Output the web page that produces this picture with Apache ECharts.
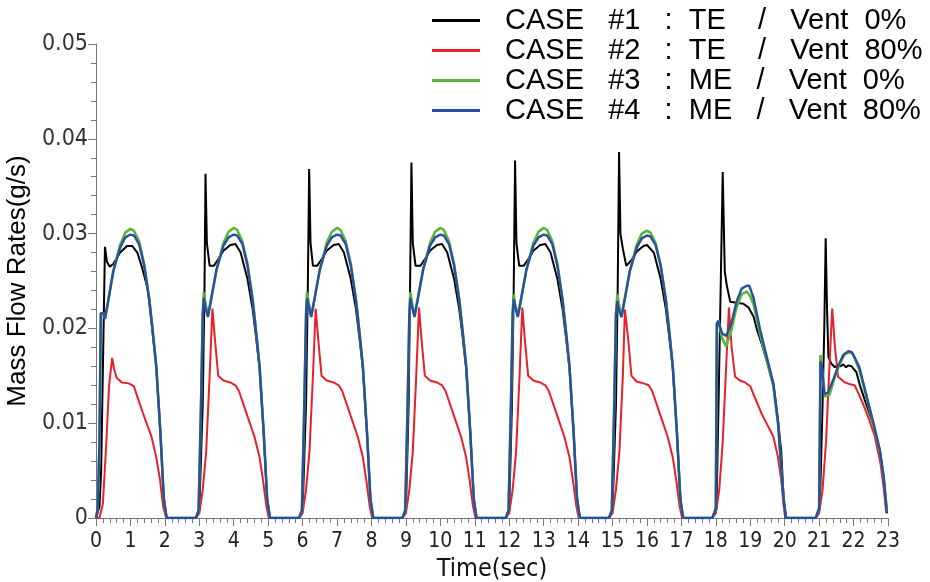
<!DOCTYPE html>
<html>
<head>
<meta charset="utf-8">
<script src="https://cdn.jsdelivr.net/npm/echarts@6/dist/echarts.min.js"></script>
<style>
  html, body { margin: 0; padding: 0; background: #fff; }
  #main { width: 930px; height: 582px; }
</style>
</head>
<body>
<div id="main"></div>
<script>
var caseNames = [
    'CASE   #1   :  TE    /   Vent  0%',
    'CASE   #2   :  TE    /   Vent  80%',
    'CASE   #3   :  ME   /   Vent  0%',
    'CASE   #4   :  ME   /   Vent  80%'
];
var caseColors = ['#000000', '#e8202a', '#5ab535', '#2b4fa0'];

// [time (sec), mass flow rate (g/s)]
var case1 = [
    [0,0],[0.1,0.0012],[0.15,0.005],[0.22,0.02],[0.26,0.0286],[0.32,0.027],[0.4,0.0265],[0.5,0.0268],[0.7,0.028],[0.9,0.0287],[1.05,0.0287],[1.2,0.028],[1.33,0.0265],[1.5,0.0242],[1.6,0.021],[1.75,0.016],[1.87,0.009],[1.97,0.002],[2.05,0],
    [2.9,0],[3.0,0.0008],[3.1,0.012],[3.15,0.024],[3.18,0.0363],[3.22,0.029],[3.3,0.0266],[3.42,0.0266],[3.55,0.0273],[3.7,0.0282],[3.9,0.0288],[4.05,0.0289],[4.2,0.028],[4.4,0.0252],[4.55,0.022],[4.65,0.019],[4.75,0.0158],[4.87,0.009],[4.97,0.002],[5.05,0],
    [5.9,0],[6.0,0.0008],[6.1,0.012],[6.15,0.024],[6.19,0.0368],[6.23,0.029],[6.3,0.0266],[6.42,0.0266],[6.55,0.0273],[6.7,0.0282],[6.9,0.0288],[7.05,0.0289],[7.2,0.028],[7.4,0.0252],[7.55,0.022],[7.65,0.019],[7.75,0.0158],[7.87,0.009],[7.97,0.002],[8.05,0],
    [8.9,0],[9.0,0.0008],[9.08,0.012],[9.12,0.024],[9.16,0.0375],[9.2,0.029],[9.28,0.0266],[9.42,0.0266],[9.55,0.0273],[9.7,0.0282],[9.9,0.0288],[10.05,0.0289],[10.2,0.028],[10.4,0.0252],[10.55,0.022],[10.65,0.019],[10.75,0.0158],[10.87,0.009],[10.97,0.002],[11.05,0],
    [11.9,0],[12.0,0.0008],[12.08,0.012],[12.13,0.024],[12.17,0.0377],[12.21,0.029],[12.29,0.0266],[12.42,0.0266],[12.55,0.0273],[12.7,0.0282],[12.9,0.0288],[13.05,0.0289],[13.2,0.028],[13.4,0.0252],[13.55,0.022],[13.65,0.019],[13.75,0.0158],[13.87,0.009],[13.97,0.002],[14.05,0],
    [14.9,0],[15.0,0.0008],[15.1,0.012],[15.15,0.024],[15.19,0.0386],[15.23,0.03],[15.3,0.0284],[15.4,0.0266],[15.55,0.0272],[15.7,0.0281],[15.9,0.0287],[16.0,0.0288],[16.2,0.028],[16.4,0.0252],[16.55,0.022],[16.65,0.019],[16.75,0.0158],[16.87,0.009],[16.97,0.002],[17.05,0],
    [17.9,0],[18.02,0.001],[18.12,0.02],[18.2,0.0365],[18.26,0.026],[18.32,0.0245],[18.42,0.0228],[18.6,0.0227],[18.8,0.0226],[18.95,0.0222],[19.1,0.0212],[19.2,0.0198],[19.33,0.0184],[19.5,0.0163],[19.67,0.0142],[19.8,0.0105],[19.9,0.007],[19.97,0.002],[20.05,0],
    [20.9,0],[21.02,0.001],[21.1,0.012],[21.15,0.02],[21.19,0.0295],[21.23,0.022],[21.27,0.017],[21.35,0.0163],[21.46,0.0159],[21.55,0.0162],[21.62,0.016],[21.7,0.0162],[21.78,0.0159],[21.85,0.0161],[21.94,0.016],[22.08,0.0154],[22.2,0.0138],[22.35,0.0122],[22.56,0.010],[22.76,0.0072],[22.88,0.004],[22.97,0.0005]
];

var case2 = [
    [0,0],[0.1,0],[0.2,0.0015],[0.3,0.008],[0.38,0.014],[0.47,0.0169],[0.52,0.0158],[0.6,0.0148],[0.75,0.0143],[0.95,0.0142],[1.1,0.0139],[1.2,0.0128],[1.37,0.011],[1.5,0.0097],[1.61,0.0086],[1.75,0.0064],[1.86,0.004],[1.95,0.0012],[2.04,0],
    [2.9,0],[3.0,0.0005],[3.1,0.003],[3.2,0.007],[3.3,0.015],[3.38,0.0221],[3.45,0.019],[3.55,0.015],[3.7,0.0145],[3.9,0.0143],[4.05,0.014],[4.15,0.0134],[4.3,0.0118],[4.45,0.0102],[4.6,0.0086],[4.75,0.0064],[4.85,0.004],[4.95,0.0012],[5.02,0],
    [5.9,0],[6.0,0.0005],[6.1,0.003],[6.2,0.007],[6.3,0.015],[6.38,0.0221],[6.45,0.019],[6.55,0.015],[6.7,0.0145],[6.9,0.0143],[7.05,0.014],[7.15,0.0134],[7.3,0.0118],[7.45,0.0102],[7.6,0.0086],[7.75,0.0064],[7.85,0.004],[7.95,0.0012],[8.02,0],
    [8.9,0],[9.0,0.0005],[9.1,0.003],[9.2,0.007],[9.3,0.015],[9.38,0.0222],[9.45,0.019],[9.55,0.015],[9.7,0.0145],[9.9,0.0143],[10.05,0.014],[10.15,0.0134],[10.3,0.0118],[10.45,0.0102],[10.6,0.0086],[10.75,0.0064],[10.85,0.004],[10.95,0.0012],[11.02,0],
    [11.9,0],[12.0,0.0005],[12.1,0.003],[12.2,0.007],[12.3,0.015],[12.38,0.0222],[12.45,0.019],[12.55,0.015],[12.7,0.0145],[12.9,0.0143],[13.05,0.014],[13.15,0.0134],[13.3,0.0118],[13.45,0.0102],[13.6,0.0086],[13.75,0.0064],[13.85,0.004],[13.95,0.0012],[14.02,0],
    [14.9,0],[15.0,0.0005],[15.1,0.003],[15.2,0.007],[15.3,0.015],[15.36,0.022],[15.45,0.019],[15.55,0.015],[15.7,0.0144],[15.9,0.0142],[16.05,0.014],[16.15,0.0134],[16.3,0.0118],[16.45,0.0102],[16.6,0.0086],[16.75,0.0064],[16.85,0.004],[16.95,0.0012],[17.02,0],
    [17.9,0],[18.0,0.0005],[18.1,0.003],[18.2,0.008],[18.3,0.016],[18.38,0.0222],[18.46,0.018],[18.56,0.0149],[18.7,0.0145],[18.85,0.0143],[19.0,0.0139],[19.1,0.013],[19.33,0.011],[19.5,0.0098],[19.67,0.0086],[19.8,0.0065],[19.9,0.004],[19.97,0.0012],[20.05,0],
    [20.9,0],[21.0,0.0005],[21.1,0.003],[21.2,0.008],[21.3,0.016],[21.38,0.0221],[21.46,0.018],[21.55,0.0149],[21.75,0.0143],[21.9,0.0141],[22.03,0.014],[22.15,0.0131],[22.27,0.0121],[22.45,0.0104],[22.61,0.0087],[22.78,0.0058],[22.88,0.003],[22.95,0.0005]
];

var case3 = [
    [0,0],[0.05,0.001],[0.1,0.008],[0.14,0.0216],[0.22,0.0216],[0.26,0.021],[0.35,0.0228],[0.5,0.026],[0.7,0.0288],[0.85,0.0301],[1.0,0.0305],[1.1,0.0303],[1.25,0.0292],[1.4,0.0268],[1.55,0.023],[1.65,0.0196],[1.75,0.016],[1.87,0.009],[1.97,0.002],[2.05,0],
    [2.9,0],[2.98,0.0008],[3.05,0.012],[3.1,0.0215],[3.13,0.0238],[3.17,0.0228],[3.25,0.0213],[3.35,0.0232],[3.5,0.0262],[3.7,0.029],[3.85,0.0302],[4.0,0.0306],[4.1,0.0304],[4.25,0.0292],[4.4,0.0268],[4.55,0.023],[4.65,0.0196],[4.75,0.016],[4.87,0.009],[4.97,0.002],[5.05,0],
    [5.9,0],[5.98,0.0008],[6.05,0.012],[6.1,0.0215],[6.13,0.0238],[6.17,0.0228],[6.25,0.0213],[6.35,0.0232],[6.5,0.0262],[6.7,0.029],[6.85,0.0302],[7.0,0.0306],[7.1,0.0304],[7.25,0.0292],[7.4,0.0268],[7.55,0.023],[7.65,0.0196],[7.75,0.016],[7.87,0.009],[7.97,0.002],[8.05,0],
    [8.9,0],[8.98,0.0008],[9.05,0.012],[9.1,0.0215],[9.13,0.0238],[9.17,0.0228],[9.25,0.0213],[9.35,0.0232],[9.5,0.0262],[9.7,0.029],[9.85,0.0302],[10.0,0.0306],[10.1,0.0304],[10.25,0.0292],[10.4,0.0268],[10.55,0.023],[10.65,0.0196],[10.75,0.016],[10.87,0.009],[10.97,0.002],[11.05,0],
    [11.9,0],[11.98,0.0008],[12.05,0.012],[12.1,0.0215],[12.13,0.0236],[12.17,0.0226],[12.25,0.0213],[12.35,0.0232],[12.5,0.0262],[12.7,0.029],[12.85,0.0302],[13.0,0.0306],[13.1,0.0304],[13.25,0.0292],[13.4,0.0268],[13.55,0.023],[13.65,0.0196],[13.75,0.016],[13.87,0.009],[13.97,0.002],[14.05,0],
    [14.9,0],[14.98,0.0008],[15.05,0.012],[15.1,0.0215],[15.14,0.0236],[15.18,0.0226],[15.26,0.0212],[15.35,0.023],[15.5,0.026],[15.7,0.0288],[15.85,0.03],[16.0,0.0303],[16.1,0.0301],[16.25,0.029],[16.4,0.0266],[16.55,0.023],[16.65,0.0196],[16.75,0.016],[16.87,0.009],[16.97,0.002],[17.05,0],
    [17.9,0],[18.0,0.001],[18.03,0.0205],[18.08,0.0208],[18.18,0.019],[18.3,0.0181],[18.45,0.0198],[18.6,0.0222],[18.75,0.0236],[18.9,0.0239],[19.0,0.0234],[19.1,0.0225],[19.29,0.0193],[19.48,0.0166],[19.67,0.0139],[19.81,0.0098],[19.93,0.0036],[20.02,0],
    [20.9,0],[21.0,0.001],[21.04,0.0172],[21.08,0.017],[21.17,0.0128],[21.3,0.013],[21.45,0.0148],[21.6,0.0163],[21.75,0.0173],[21.9,0.0175],[22.0,0.0172],[22.1,0.0162],[22.17,0.0156],[22.3,0.0138],[22.46,0.0115],[22.6,0.0095],[22.76,0.0071],[22.87,0.0045],[22.97,0.0008]
];

var case4 = [
    [0,0],[0.05,0.001],[0.1,0.008],[0.14,0.0216],[0.22,0.0216],[0.26,0.021],[0.35,0.0228],[0.5,0.026],[0.7,0.0285],[0.85,0.0296],[1.0,0.0299],[1.1,0.0298],[1.25,0.0289],[1.4,0.0266],[1.55,0.023],[1.65,0.0196],[1.75,0.016],[1.87,0.009],[1.97,0.002],[2.05,0],
    [2.9,0],[2.98,0.0008],[3.05,0.012],[3.1,0.0215],[3.13,0.0232],[3.17,0.0224],[3.25,0.0212],[3.35,0.0232],[3.5,0.0262],[3.7,0.0287],[3.85,0.0296],[4.0,0.0299],[4.1,0.0298],[4.25,0.0289],[4.4,0.0266],[4.55,0.023],[4.65,0.0196],[4.75,0.016],[4.87,0.009],[4.97,0.002],[5.05,0],
    [5.9,0],[5.98,0.0008],[6.05,0.012],[6.1,0.0215],[6.13,0.0232],[6.17,0.0224],[6.25,0.0212],[6.35,0.0232],[6.5,0.0262],[6.7,0.0287],[6.85,0.0296],[7.0,0.0299],[7.1,0.0298],[7.25,0.0289],[7.4,0.0266],[7.55,0.023],[7.65,0.0196],[7.75,0.016],[7.87,0.009],[7.97,0.002],[8.05,0],
    [8.9,0],[8.98,0.0008],[9.05,0.012],[9.1,0.0215],[9.13,0.0232],[9.17,0.0224],[9.25,0.0212],[9.35,0.0232],[9.5,0.0262],[9.7,0.0287],[9.85,0.0296],[10.0,0.0299],[10.1,0.0298],[10.25,0.0289],[10.4,0.0266],[10.55,0.023],[10.65,0.0196],[10.75,0.016],[10.87,0.009],[10.97,0.002],[11.05,0],
    [11.9,0],[11.98,0.0008],[12.05,0.012],[12.1,0.0215],[12.13,0.0231],[12.17,0.0223],[12.25,0.0212],[12.35,0.0232],[12.5,0.0262],[12.7,0.0287],[12.85,0.0296],[13.0,0.0299],[13.1,0.0298],[13.25,0.0289],[13.4,0.0266],[13.55,0.023],[13.65,0.0196],[13.75,0.016],[13.87,0.009],[13.97,0.002],[14.05,0],
    [14.9,0],[14.98,0.0008],[15.05,0.012],[15.1,0.0215],[15.14,0.0229],[15.18,0.022],[15.26,0.0212],[15.35,0.023],[15.5,0.026],[15.7,0.0285],[15.85,0.0295],[16.0,0.0298],[16.1,0.0297],[16.25,0.0288],[16.4,0.0266],[16.55,0.023],[16.65,0.0196],[16.75,0.016],[16.87,0.009],[16.97,0.002],[17.05,0],
    [17.9,0],[18.0,0.001],[18.03,0.0205],[18.07,0.0208],[18.18,0.0195],[18.3,0.0192],[18.45,0.0205],[18.6,0.0228],[18.75,0.0242],[18.9,0.0245],[18.97,0.0245],[19.09,0.0233],[19.29,0.0198],[19.48,0.017],[19.67,0.0142],[19.81,0.010],[19.93,0.0037],[20.02,0],
    [20.9,0],[21.0,0.001],[21.04,0.0165],[21.08,0.016],[21.15,0.0131],[21.25,0.0132],[21.4,0.0145],[21.55,0.016],[21.7,0.0172],[21.85,0.0176],[21.95,0.0175],[22.05,0.0168],[22.17,0.0159],[22.3,0.014],[22.46,0.0117],[22.6,0.0097],[22.76,0.0072],[22.87,0.0045],[22.96,0.0008]
];

var xTicks = [0, 23, 1];
var yTicks = [0, 0.05, 0.01];

var tickFont = "'DejaVu Sans Condensed', 'Liberation Sans Narrow', sans-serif";
var seriesData = [case1, case2, case3, case4];
var lineWidths = [2, 2, 2.6, 2.4];
var zOrder = [1, 2, 3, 4];

var myChart = echarts.init(document.getElementById('main'));

myChart.setOption({
    animation: false,
    backgroundColor: '#fff',
    grid: {
        left: 96,
        right: 42,
        top: 44,
        bottom: 64,
        containLabel: false,
        outerBoundsMode: 'none'
    },
    legend: {
        data: caseNames,
        orient: 'vertical',
        left: 432,
        top: 6,
        padding: 0,
        icon: 'rect',
        itemWidth: 48,
        itemHeight: 3,
        itemGap: 1,
        textStyle: {
            fontFamily: "'Liberation Sans', Arial, sans-serif",
            fontSize: 29,
            lineHeight: 28,
            color: '#000',
            padding: [0, 0, 0, 20]
        }
    },
    xAxis: {
        type: 'value',
        min: xTicks[0],
        max: xTicks[1],
        interval: xTicks[2],
        name: 'Time(sec)',
        nameLocation: 'middle',
        nameGap: 38,
        nameTextStyle: { fontFamily: tickFont, fontSize: 25, color: '#111' },
        axisLine: { lineStyle: { color: '#777', width: 1 } },
        axisTick: { show: true, length: 8, lineStyle: { color: '#777' } },
        minorTick: { show: true, splitNumber: 5, length: 5, lineStyle: { color: '#777' } },
        splitLine: { show: false },
        axisLabel: { fontFamily: tickFont, fontSize: 21, color: '#222', margin: 13 }
    },
    yAxis: {
        type: 'value',
        min: yTicks[0],
        max: yTicks[1],
        interval: yTicks[2],
        name: 'Mass Flow Rates(g/s)',
        nameLocation: 'middle',
        nameGap: 52,
        nameTextStyle: { fontFamily: "'Liberation Sans', Arial, sans-serif", fontSize: 26, color: '#000' },
        axisLine: { show: true, lineStyle: { color: '#777', width: 1 } },
        axisTick: { show: true, length: 8, lineStyle: { color: '#777' } },
        minorTick: { show: true, splitNumber: 5, length: 5, lineStyle: { color: '#777' } },
        splitLine: { show: false },
        axisLabel: {
            fontFamily: tickFont,
            fontSize: 23,
            color: '#333',
            margin: 8,
            formatter: function (v) { return v === 0 ? '0' : v.toFixed(2); }
        }
    },
    series: caseNames.map(function (name, i) {
        return {
            name: name,
            type: 'line',
            data: seriesData[i],
            showSymbol: false,
            symbol: 'none',
            z: zOrder[i],
            color: caseColors[i],
            lineStyle: { color: caseColors[i], width: lineWidths[i] }
        };
    })
});
</script>
</body>
</html>
